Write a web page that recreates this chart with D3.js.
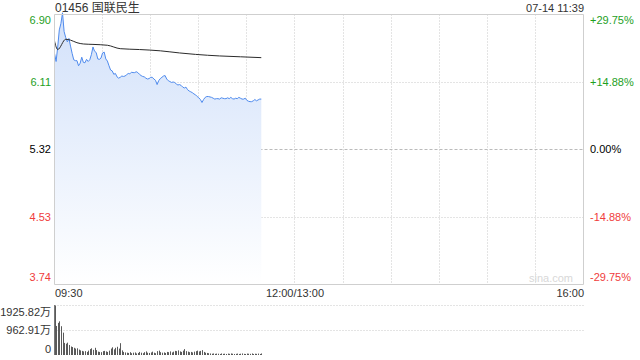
<!DOCTYPE html>
<html>
<head>
<meta charset="utf-8">
<script src="https://cdn.jsdelivr.net/npm/d3@7/dist/d3.min.js"></script>
<style>
	html, body { margin: 0; padding: 0; background: #fff; }
	svg { display: block; font-family: Arial, "Liberation Sans", "Noto Sans CJK SC", sans-serif; }
</style>
</head>
<body>
<svg id="chart" width="640" height="360"></svg>
<script>
"use strict";

const title = "01456 国联民生";
const stamp = "07-14 11:39";
const pre_close = 5.32;
const price_ticks = [6.90, 6.11, 5.32, 4.53, 3.74];
const pct_ticks = ["+29.75%", "+14.88%", "0.00%", "-14.88%", "-29.75%"];
const time_labels = ["09:30", "12:00/13:00", "16:00"];
const vol_ticks = [1925.82, 962.91, 0];
const vol_tick_labels = ["1925.82万", "962.91万", "0"];

// one value per minute from 09:30
const prices = [
	6.445, 6.35, 6.52, 6.72, 6.795, 6.92, 6.70, 6.63, 6.58, 6.62,
	6.53, 6.445, 6.37, 6.36, 6.36, 6.30, 6.33, 6.40, 6.34, 6.335,
	6.375, 6.35, 6.37, 6.43, 6.52, 6.47, 6.455, 6.38, 6.375, 6.39,
	6.45, 6.46, 6.38, 6.355, 6.30, 6.25, 6.24, 6.20, 6.21, 6.17,
	6.155, 6.165, 6.18, 6.175, 6.18, 6.195, 6.21, 6.205, 6.225, 6.22,
	6.22, 6.23, 6.22, 6.20, 6.185, 6.175, 6.17, 6.155, 6.145, 6.15,
	6.165, 6.165, 6.145, 6.13, 6.08, 6.125, 6.15, 6.165, 6.18, 6.185,
	6.145, 6.125, 6.115, 6.105, 6.11, 6.105, 6.085, 6.075, 6.08, 6.07,
	6.05, 6.04, 6.05, 6.02, 6.005, 5.995, 5.985, 5.97, 5.96, 5.94,
	5.925, 5.905, 5.87, 5.905, 5.93, 5.94, 5.94, 5.935, 5.93, 5.92,
	5.91, 5.915, 5.915, 5.91, 5.925, 5.92, 5.915, 5.915, 5.925, 5.915,
	5.93, 5.915, 5.91, 5.92, 5.915, 5.93, 5.92, 5.91, 5.91, 5.92,
	5.895, 5.885, 5.88, 5.88, 5.89, 5.905, 5.89, 5.90, 5.91, 5.91
];

// average price line, read at a few minutes
const avg_minutes = [0, 2, 7, 10, 14, 18, 24, 33, 41, 53, 66, 78, 88, 103, 116, 129];
const avg_prices = [6.59, 6.49, 6.61, 6.60, 6.57, 6.555, 6.55, 6.54, 6.50, 6.49, 6.475, 6.45, 6.433, 6.415, 6.405, 6.395];

// volume per minute, in 万
const volumes = [
	1925.82, 1130, 1250, 1310, 1120, 870, 470, 440, 480, 390,
	330, 310, 280, 250, 260, 210, 180, 160, 140, 150,
	120, 170, 230, 260, 200, 280, 190, 130, 120, 110,
	150, 160, 140, 120, 170, 250, 300, 220, 280, 320,
	250, 460, 180, 120, 100, 90, 80, 110, 70, 90,
	100, 60, 80, 120, 90, 70, 110, 140, 90, 80,
	100, 130, 90, 70, 150, 170, 110, 90, 100, 80,
	120, 110, 140, 100, 130, 160, 150, 180, 140, 120,
	170, 230, 150, 130, 110, 120, 100, 130, 150, 170,
	140, 160, 190, 120, 90, 80, 70, 60, 50, 60,
	45, 55, 50, 40, 60, 45, 50, 40, 55, 45,
	60, 50, 40, 45, 55, 40, 50, 60, 45, 40,
	55, 50, 45, 60, 40, 50, 45, 55, 40, 60
];

const total_minutes = 330;
const grid_steps = 11;

const C = {
	text: "#333",
	up: "#1ea01e",
	down: "#f03c3c",
	grid: "#c8c8c8",
	border: "#cfcfcf",
	line: "#4f8bee",
	avg: "#2b2b2b",
	bar: "#5a5a5a",
};

(() => {
	const svg = d3.select("#chart");
	const left = 54.5, right = 583.5;
	const ptop = 14.5, pbottom = 284.5;
	const vtop = 305.5, vbottom = 355;

	const x = d3.scaleLinear().domain([0, total_minutes]).range([left, right]);
	const y = d3.scaleLinear().domain([price_ticks[4], price_ticks[0]]).range([pbottom, ptop]);
	const vy = d3.scaleLinear().domain([0, vol_ticks[0]]).range([vbottom, vtop]);

	const color_for = (p) => p > pre_close ? C.up : (p < pre_close ? C.down : "#000");
	const px = (v) => Math.round(v - 0.5) + 0.5;

	// gradient for the area
	const defs = svg.append("defs");
	const grad = defs.append("linearGradient")
		.attr("id", "area-grad")
		.attr("gradientUnits", "userSpaceOnUse")
		.attr("x1", 0).attr("x2", 0)
		.attr("y1", ptop).attr("y2", pbottom);
	grad.append("stop").attr("offset", 0).attr("stop-color", "#d2e1fa");
	grad.append("stop").attr("offset", 1).attr("stop-color", "#ffffff");

	// grid
	const g_grid = svg.append("g");
	d3.range(1, grid_steps).forEach((i) => {
		const gx = px(x(i * total_minutes / grid_steps));
		g_grid.append("line")
			.attr("x1", gx).attr("x2", gx)
			.attr("y1", ptop).attr("y2", pbottom)
			.attr("stroke", C.grid)
			.attr("stroke-dasharray", "1,2");
	});
	price_ticks.slice(1, 4).forEach((p) => {
		const gy = px(y(p));
		g_grid.append("line")
			.attr("x1", left).attr("x2", right)
			.attr("y1", gy).attr("y2", gy)
			.attr("stroke", p === pre_close ? "#bbb" : C.grid)
			.attr("stroke-dasharray", p === pre_close ? "3,2" : "1,2");
	});

	// area + lines
	const area = d3.area()
		.x((d, i) => x(i))
		.y0(pbottom)
		.y1((d) => y(d));
	svg.append("path")
		.datum(prices)
		.attr("d", area)
		.attr("fill", "url(#area-grad)");

	const line = d3.line()
		.x((d, i) => x(i))
		.y((d) => y(d));
	svg.append("path")
		.datum(prices)
		.attr("d", line)
		.attr("fill", "none")
		.attr("stroke", C.line)
		.attr("stroke-width", 1);

	const avg_line = d3.line()
		.x((d, i) => x(avg_minutes[i]))
		.y((d) => y(d))
		.curve(d3.curveMonotoneX);
	svg.append("path")
		.datum(avg_prices)
		.attr("d", avg_line)
		.attr("fill", "none")
		.attr("stroke", C.avg)
		.attr("stroke-width", 1);

	// borders
	const border = svg.append("g").attr("stroke", C.border).attr("fill", "none");
	border.append("line").attr("x1", left).attr("x2", right).attr("y1", ptop).attr("y2", ptop);
	border.append("line").attr("x1", left).attr("x2", right).attr("y1", pbottom).attr("y2", pbottom);
	border.append("line").attr("x1", left).attr("x2", left).attr("y1", ptop).attr("y2", pbottom);
	border.append("line").attr("x1", right).attr("x2", right).attr("y1", ptop).attr("y2", pbottom);

	// watermark
	svg.append("text")
		.attr("x", 573).attr("y", 282)
		.attr("text-anchor", "end")
		.attr("font-size", 11)
		.attr("fill", "#d8d8d8")
		.text("sina.com");

	// header
	svg.append("text")
		.attr("x", 55).attr("y", 12)
		.attr("font-size", 12)
		.attr("fill", C.text)
		.text(title);
	svg.append("text")
		.attr("x", 584).attr("y", 12)
		.attr("text-anchor", "end")
		.attr("font-size", 11)
		.attr("fill", C.text)
		.text(stamp);

	// price + percent labels
	const label_y = (v) => Math.min(Math.max(y(v), ptop + 6), pbottom - 7);
	price_ticks.forEach((p, i) => {
		svg.append("text")
			.attr("x", 51).attr("y", label_y(p))
			.attr("dy", "0.35em")
			.attr("text-anchor", "end")
			.attr("font-size", 11)
			.attr("fill", color_for(p))
			.text(p.toFixed(2));
		svg.append("text")
			.attr("x", 590).attr("y", label_y(p))
			.attr("dy", "0.35em")
			.attr("font-size", 11)
			.attr("fill", color_for(p))
			.text(pct_ticks[i]);
	});

	// time labels
	[0, 150, 330].forEach((m, i) => {
		svg.append("text")
			.attr("x", i === 0 ? 55 : (i === 2 ? 584 : x(m)))
			.attr("y", 297)
			.attr("text-anchor", i === 0 ? "start" : (i === 2 ? "end" : "middle"))
			.attr("font-size", 11)
			.attr("fill", C.text)
			.text(time_labels[i]);
	});

	// volume panel
	const g_vol = svg.append("g");
	vol_ticks.slice(0, 2).forEach((v) => {
		g_vol.append("line")
			.attr("x1", left).attr("x2", right)
			.attr("y1", px(vy(v))).attr("y2", px(vy(v)))
			.attr("stroke", C.grid)
			.attr("stroke-dasharray", "1,2");
	});
	g_vol.selectAll("rect.vol")
		.data(volumes)
		.enter()
		.append("rect")
		.attr("class", "vol")
		.attr("x", (d, i) => Math.round(x(i)))
		.attr("width", 1)
		.attr("y", (d) => vy(d))
		.attr("height", (d) => vbottom - vy(d))
		.attr("fill", C.bar);
	g_vol.append("line")
		.attr("x1", left).attr("x2", left)
		.attr("y1", vtop - 0.5).attr("y2", vbottom)
		.attr("stroke", "#777");

	const vlabel_y = (v) => Math.min(Math.max(vy(v), vtop + 7), vbottom - 6);
	vol_ticks.forEach((v, i) => {
		g_vol.append("text")
			.attr("x", 51).attr("y", vlabel_y(v))
			.attr("dy", "0.35em")
			.attr("text-anchor", "end")
			.attr("font-size", 11)
			.attr("fill", C.text)
			.text(vol_tick_labels[i]);
	});
})();
</script>
</body>
</html>
